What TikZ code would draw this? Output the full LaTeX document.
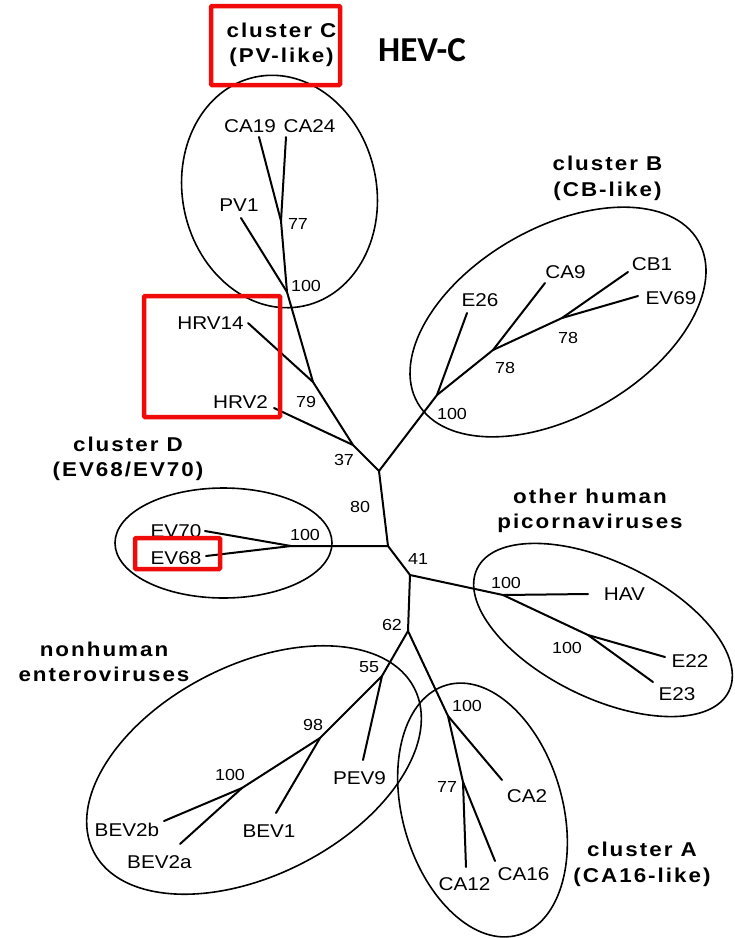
\documentclass[tikz,border=0pt]{standalone}
\usepackage{fontspec}
\newfontfamily\tiplab[FakeStretch=1.12]{Liberation Sans}
\newfontfamily\clulab[FakeStretch=1.12,LetterSpace=10]{Liberation Sans}
\newfontfamily\hevfont{Carlito}
\begin{document}
\begin{tikzpicture}[x=1pt,y=-1pt,
  branch/.style={line width=2pt, line join=round, line cap=round},
  clade/.style={line width=1.6pt},
  tip/.style={font=\tiplab\fontsize{18.5}{20}\selectfont, inner sep=0pt},
  boot/.style={font=\tiplab\fontsize{16}{18}\selectfont, inner sep=0pt},
  group/.style={font=\clulab\bfseries\fontsize{20}{25.5}\selectfont, inner sep=0pt, align=center},
  hilite/.style={draw={rgb,255:red,240;green,10;blue,10}, line width=4.5pt, rounded corners=1pt}]
\fill[white] (0,0) rectangle (735,938);
\useasboundingbox (0,0) rectangle (735,938);

% ---- internal nodes of the tree ----
\coordinate (cU) at (379,471);
\coordinate (cM) at (388,546);
\coordinate (cL) at (410,575);
\coordinate (n62) at (408,631);
% cluster C and rhinoviruses
\coordinate (n37) at (353,445);
\coordinate (h14) at (313,382);
\coordinate (c100) at (287,292);
\coordinate (c77) at (281,221);
\coordinate (tCA19) at (259,137);
\coordinate (tCA24) at (286,137);
\coordinate (tPV1) at (241,218);
\coordinate (tHRV14) at (248,323);
\coordinate (tHRV2) at (274,408);
% cluster B
\coordinate (b100) at (437,395);
\coordinate (b78a) at (493,350);
\coordinate (b78b) at (562,318);
\coordinate (tE26) at (467,313);
\coordinate (tCA9) at (545,283);
\coordinate (tCB1) at (628,272);
\coordinate (tEV69) at (638,296);
% cluster D
\coordinate (d100) at (291,546);
\coordinate (tEV70) at (205,531);
\coordinate (tEV68) at (206,556);
% other human picornaviruses
\coordinate (o100) at (503,595);
\coordinate (o100b) at (588,635);
\coordinate (tHAV) at (588,594);
\coordinate (tE22) at (665,657);
\coordinate (tE23) at (653,682);
% nonhuman enteroviruses
\coordinate (n55) at (382,676);
\coordinate (n98) at (320,738);
\coordinate (nb100) at (242,788);
\coordinate (tPEV9) at (363,760);
\coordinate (tBEV1) at (276,813);
\coordinate (tBEV2b) at (164,821);
\coordinate (tBEV2a) at (180,844);
% cluster A
\coordinate (a100) at (448,716);
\coordinate (a77) at (463,782);
\coordinate (tCA2) at (502,780);
\coordinate (tCA12) at (466,867);
\coordinate (tCA16) at (495,861);

% ---- branches ----
\draw[branch] (cU) -- (cM) -- (cL) -- (n62);
\draw[branch] (cU) -- (n37) -- (h14) -- (c100) -- (c77) -- (tCA24);
\draw[branch] (c77) -- (tCA19);
\draw[branch] (c100) -- (tPV1);
\draw[branch] (h14) -- (tHRV14);
\draw[branch] (n37) -- (tHRV2);
\draw[branch] (cU) -- (b100) -- (b78a) -- (b78b) -- (tCB1);
\draw[branch] (b78b) -- (tEV69);
\draw[branch] (b78a) -- (tCA9);
\draw[branch] (b100) -- (tE26);
\draw[branch] (cM) -- (d100) -- (tEV70);
\draw[branch] (d100) -- (tEV68);
\draw[branch] (cL) -- (o100) -- (tHAV);
\draw[branch] (o100) -- (o100b) -- (tE22);
\draw[branch] (o100b) -- (tE23);
\draw[branch] (n62) -- (n55) -- (n98) -- (nb100) -- (tBEV2b);
\draw[branch] (nb100) -- (tBEV2a);
\draw[branch] (n98) -- (tBEV1);
\draw[branch] (n55) -- (tPEV9);
\draw[branch] (n62) -- (a100) -- (tCA2);
\draw[branch] (a100) -- (a77) -- (tCA12);
\draw[branch] (a77) -- (tCA16);

% ---- clade outlines ----
\coordinate (eC) at (279.5,191.5);
\coordinate (eB) at (558,322);
\coordinate (eD) at (223.5,543);
\coordinate (eO) at (603,630);
\coordinate (eN) at (254,770);
\coordinate (eA) at (482.5,810);
\draw[clade, rotate around={-78:(eC)}] (eC) ellipse [x radius=117, y radius=97];
\draw[clade, rotate around={30:(eB)}] (eB) ellipse [x radius=162, y radius=94];
\draw[clade] (eD) ellipse [x radius=108.5, y radius=55];
\draw[clade, rotate around={-26:(eO)}] (eO) ellipse [x radius=140, y radius=68];
\draw[clade, rotate around={27:(eN)}] (eN) ellipse [x radius=180, y radius=105];
\draw[clade, rotate around={-74:(eA)}] (eA) ellipse [x radius=130, y radius=80];

% ---- taxon labels ----
\node[tip] (lCA19) at (250,126) {CA19};
\node[tip] (lCA24) at (309.5,126) {CA24};
\node[tip] (lPV1) at (239,205) {PV1};
\node[tip] (lHRV14) at (210.5,323) {HRV14};
\node[tip] (lHRV2) at (240.5,402) {HRV2};
\node[tip] (lEV70) at (176,531) {EV70};
\node[tip] (lEV68) at (176,558) {EV68};
\node[tip] (lE26) at (480,300) {E26};
\node[tip] (lCA9) at (565.5,272) {CA9};
\node[tip] (lCB1) at (652,264) {CB1};
\node[tip] (lEV69) at (671,298.5) {EV69};
\node[tip] (lHAV) at (624.5,594) {HAV};
\node[tip] (lE22) at (690,661) {E22};
\node[tip] (lE23) at (677,694) {E23};
\node[tip] (lPEV9) at (359.5,778) {PEV9};
\node[tip] (lBEV1) at (269,831) {BEV1};
\node[tip] (lBEV2b) at (127,830) {BEV2b};
\node[tip] (lBEV2a) at (159.5,862) {BEV2a};
\node[tip] (lCA2) at (527,796) {CA2};
\node[tip] (lCA12) at (464.5,884) {CA12};
\node[tip] (lCA16) at (523.5,874.5) {CA16};

% ---- bootstrap values ----
\node[boot] (v77c) at (298,224) {77};
\node[boot] (v100c) at (306,286) {100};
\node[boot] (v79) at (306,402) {79};
\node[boot] (v37) at (344,460) {37};
\node[boot] (v80) at (360,507) {80};
\node[boot] (v100d) at (305,535) {100};
\node[boot] (v41) at (418,559) {41};
\node[boot] (v78b) at (568,338) {78};
\node[boot] (v78a) at (505,368) {78};
\node[boot] (v100b) at (452,414) {100};
\node[boot] (v100o) at (506,583) {100};
\node[boot] (v100e) at (567,648) {100};
\node[boot] (v62) at (392,625) {62};
\node[boot] (v55) at (369,667) {55};
\node[boot] (v98) at (313,725) {98};
\node[boot] (v100n) at (230,775) {100};
\node[boot] (v100a) at (467,706) {100};
\node[boot] (v77a) at (447,787) {77};

% ---- group labels ----
\node[group] (gC) at (281.5,45) {cluster C\\(PV-like)};
\node[group] (gB) at (607.5,178.5) {cluster B\\(CB-like)};
\node[group] (gD) at (128,459) {cluster D\\(EV68/EV70)};
\node[group] (gO) at (590,511) {other human\\picornaviruses};
\node[group] (gN) at (104,662) {nonhuman\\enteroviruses};
\node[group] (gA) at (642,864.5) {cluster A\\(CA16-like)};
\node[font=\hevfont\bfseries\fontsize{35}{40}\selectfont, inner sep=0pt] (hev) at (422,50) {HEV-C};

% ---- highlight frames ----
\draw[hilite] (211,6) rectangle (340,85);
\draw[hilite] (144,296) rectangle (280,417);
\draw[hilite] (135,538) rectangle (220,569);
\end{tikzpicture}
\end{document}
